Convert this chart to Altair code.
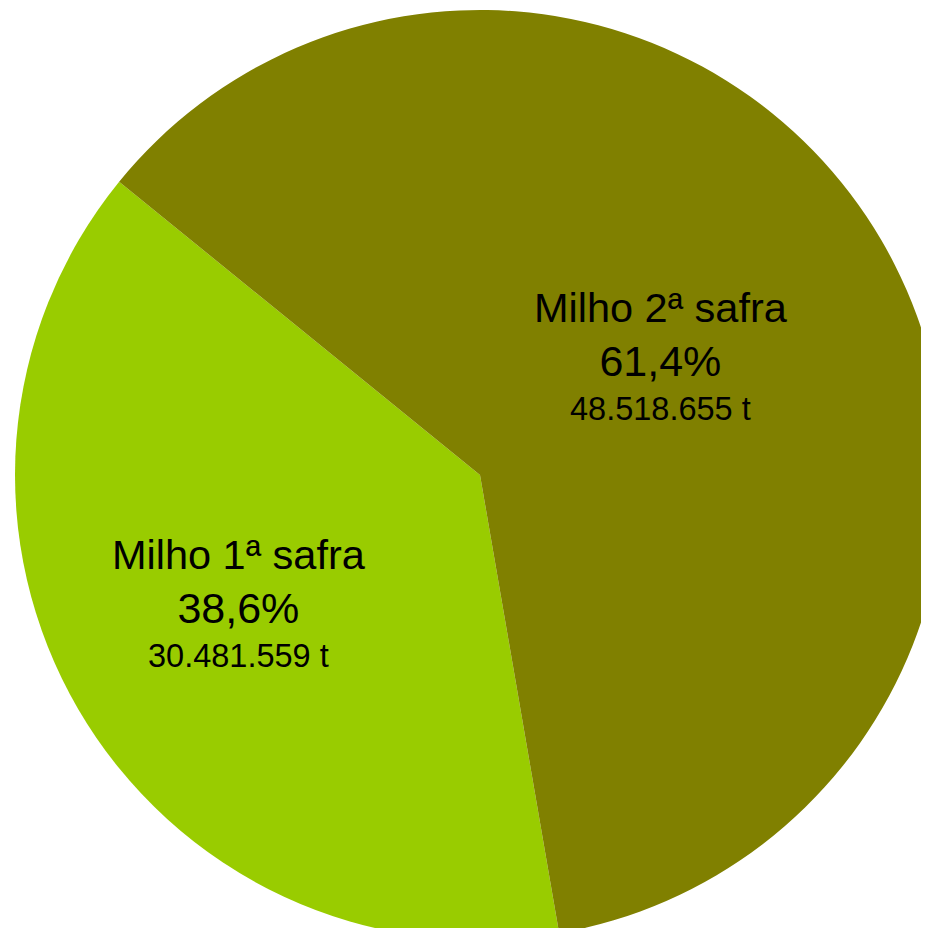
import math
import altair as alt
import pandas as pd

categories = ["Milho 1ª safra", "Milho 2ª safra"]
tonnes = [30481559, 48518655]
pct_labels = ["38,6%", "61,4%"]
tonnage_labels = ["30.481.559 t", "48.518.655 t"]
colors = ["#99CC00", "#808000"]

df = pd.DataFrame({
    "idx": [0, 1],
    "cat": categories,
    "t": tonnes,
    "pct": pct_labels,
    "ton": tonnage_labels,
})

start = math.radians(170.2)
theta_scale = alt.Scale(range=[start, start + 2 * math.pi])
cx, cy, R = 472, 467, 465

arcs = alt.Chart(df).mark_arc(radius=R, stroke=None).encode(
    theta=alt.Theta("t:Q", stack=True, scale=theta_scale),
    order=alt.Order("idx:Q"),
    x=alt.value(cx),
    y=alt.value(cy),
    color=alt.Color("cat:N", scale=alt.Scale(domain=categories, range=colors), legend=None),
)

txt = alt.Chart(df).transform_window(
    cum="sum(t)", sort=[alt.SortField("idx")], frame=[None, 0]
).transform_calculate(
    mid="datum.cum - datum.t / 2",
    r="datum.idx == 0 ? 280 : 209",
).encode(
    theta=alt.Theta("mid:Q", stack=False, scale=theta_scale),
    radius=alt.Radius("r:Q", scale=None),
    x=alt.value(cx),
    y=alt.value(cy),
)

font = "Liberation Sans"
name_t = txt.mark_text(font=font, fontSize=41.5, dy=-47, baseline="alphabetic", color="black").encode(text="cat:N")
pct_t = txt.mark_text(font=font, fontSize=43, dy=7, baseline="alphabetic", color="black").encode(text="pct:N")
ton_t = txt.mark_text(font=font, fontSize=32.5, dy=51, baseline="alphabetic", color="black").encode(text="ton:N")

chart = alt.layer(arcs, name_t, pct_t, ton_t).properties(
    width=913, height=920, autosize=alt.AutoSizeParams(type="none"), padding=0,
    background="white"
).configure_view(stroke=None)

chart.save("out.html", embed_options={"renderer": "svg", "actions": False})
